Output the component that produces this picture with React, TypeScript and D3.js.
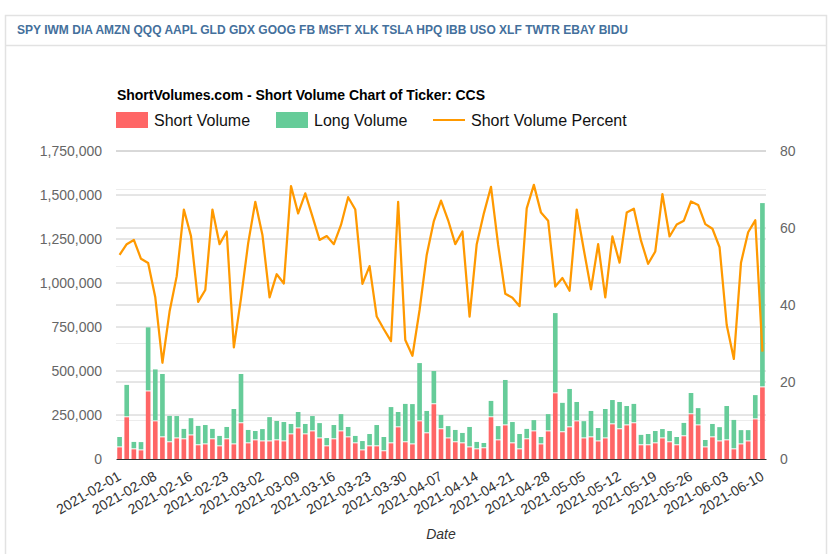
import React, { useRef, useEffect } from 'react';
import * as d3 from 'd3';

const tickers = ["SPY", "IWM", "DIA", "AMZN", "QQQ", "AAPL", "GLD", "GDX", "GOOG", "FB", "MSFT", "XLK", "TSLA", "HPQ", "IBB", "USO", "XLF", "TWTR", "EBAY", "BIDU"];

const dates = [
  "2021-02-01", "2021-02-02", "2021-02-03", "2021-02-04", "2021-02-05",
  "2021-02-08", "2021-02-09", "2021-02-10", "2021-02-11", "2021-02-12",
  "2021-02-16", "2021-02-17", "2021-02-18", "2021-02-19",
  "2021-02-22", "2021-02-23", "2021-02-24", "2021-02-25", "2021-02-26",
  "2021-03-01", "2021-03-02", "2021-03-03", "2021-03-04", "2021-03-05",
  "2021-03-08", "2021-03-09", "2021-03-10", "2021-03-11", "2021-03-12",
  "2021-03-15", "2021-03-16", "2021-03-17", "2021-03-18", "2021-03-19",
  "2021-03-22", "2021-03-23", "2021-03-24", "2021-03-25", "2021-03-26",
  "2021-03-29", "2021-03-30", "2021-03-31", "2021-04-01",
  "2021-04-05", "2021-04-06", "2021-04-07", "2021-04-08", "2021-04-09",
  "2021-04-12", "2021-04-13", "2021-04-14", "2021-04-15", "2021-04-16",
  "2021-04-19", "2021-04-20", "2021-04-21", "2021-04-22", "2021-04-23",
  "2021-04-26", "2021-04-27", "2021-04-28", "2021-04-29", "2021-04-30",
  "2021-05-03", "2021-05-04", "2021-05-05", "2021-05-06", "2021-05-07",
  "2021-05-10", "2021-05-11", "2021-05-12", "2021-05-13", "2021-05-14",
  "2021-05-17", "2021-05-18", "2021-05-19", "2021-05-20", "2021-05-21",
  "2021-05-24", "2021-05-25", "2021-05-26", "2021-05-27", "2021-05-28",
  "2021-06-01", "2021-06-02", "2021-06-03", "2021-06-04",
  "2021-06-07", "2021-06-08", "2021-06-09", "2021-06-10",
];

const tickDates = ["2021-02-01", "2021-02-08", "2021-02-16", "2021-02-23", "2021-03-02", "2021-03-09", "2021-03-16", "2021-03-23", "2021-03-30", "2021-04-07", "2021-04-14", "2021-04-21", "2021-04-28", "2021-05-05", "2021-05-12", "2021-05-19", "2021-05-26", "2021-06-03", "2021-06-10"];

// thousands of shares
const shortVolume = [
  66, 237, 55, 49, 384, 214, 123, 95, 117, 112,
  134, 78, 83, 112, 72, 112, 83, 203, 89, 106,
  100, 100, 106, 100, 140, 174, 140, 157, 117, 72,
  112, 157, 123, 89, 49, 72, 72, 44, 89, 180,
  95, 83, 214, 146, 311, 169, 117, 95, 89, 66,
  55, 61, 237, 106, 191, 89, 55, 112, 157, 83,
  157, 373, 152, 180, 214, 117, 123, 100, 117, 197,
  169, 191, 203, 78, 78, 89, 117, 95, 78, 129,
  254, 191, 66, 123, 100, 106, 55, 83, 100, 225,
  407,
];

const longVolume = [
  59, 184, 42, 47, 364, 295, 360, 150, 127, 59,
  98, 110, 110, 59, 59, 70, 201, 280, 76, 53,
  70, 138, 110, 110, 59, 93, 59, 87, 87, 47,
  81, 98, 59, 42, 53, 70, 121, 81, 206, 87,
  218, 229, 331, 127, 189, 81, 70, 70, 59, 116,
  42, 30, 93, 81, 258, 121, 87, 59, 64, 42,
  98, 456, 167, 218, 110, 98, 150, 76, 167, 138,
  155, 110, 110, 59, 64, 70, 53, 64, 47, 76,
  121, 98, 42, 76, 81, 195, 167, 81, 64, 138,
  1047,
];

const shortPercent = [
  53, 55.8, 56.9, 52, 50.9, 42, 25, 38.3, 47.5, 64.8,
  57.9, 40.8, 43.9, 64.8, 55.8, 59.1, 29, 41.7, 56, 66.8,
  58.2, 42, 48, 45.6, 70.9, 63.8, 69, 63, 56.9, 57.9,
  55.8, 60.8, 68, 64.8, 45.5, 50.1, 37, 33.7, 30.6, 66.8,
  30.9, 26.8, 38.7, 53, 61.8, 67.1, 62, 55.8, 59.1, 37,
  55.8, 63.8, 70.7, 55.6, 42.9, 41.9, 39.7, 65.1, 71.2, 64,
  61.9, 44.8, 47, 43.7, 64.8, 54.3, 44.1, 55.8, 42, 57.8,
  51, 64, 65, 56.7, 50.7, 53.9, 68.8, 57.8, 60.9, 61.9,
  66.9, 66, 61, 59.8, 55, 34.8, 26, 51, 58.9, 62,
  27.9,
];

const volumeTicks = [0, 250000, 500000, 750000, 1000000, 1250000, 1500000, 1750000];
const percentGrid = [10, 20, 30, 40, 50, 60, 70, 80];
const percentTicks = [0, 20, 40, 60, 80];

const FONT = '"Liberation Sans", Arial, sans-serif';
const RED = '#ff6666';
const GREEN = '#66cc99';
const ORANGE = '#ff9900';

const margin = { top: 151, right: 74, bottom: 95, left: 116 };
const width = 840;
const height = 554;

const App: React.FC = () => {
  const svgRef = useRef<SVGSVGElement | null>(null);

  useEffect(() => {
    if (!svgRef.current) return;
    const svg = d3.select(svgRef.current);
    svg.selectAll('*').remove();
    svg.style('font-family', FONT);

    const innerWidth = width - margin.left - margin.right;
    const innerHeight = height - margin.top - margin.bottom;

    const x = d3.scaleBand().domain(dates).range([0, innerWidth]).paddingInner(0.35).paddingOuter(0.175);
    const y = d3.scaleLinear().domain([0, 1750000]).range([innerHeight, 0]);
    const yPct = d3.scaleLinear().domain([0, 80]).range([innerHeight, 0]);

    // card around the chart
    svg.append('rect').attr('x', 5.5).attr('y', 15.5).attr('width', 821).attr('height', 560)
      .attr('fill', '#fff').attr('stroke', '#e2e2e2').attr('stroke-width', 1.5);
    svg.append('line').attr('x1', 5.5).attr('x2', 826.5).attr('y1', 45.5).attr('y2', 45.5)
      .attr('stroke', '#e2e2e2').attr('stroke-width', 1.5);

    svg.append('text').attr('x', 17).attr('y', 34)
      .attr('font-size', 12).attr('font-weight', 'bold').attr('fill', '#44709c')
      .attr('textLength', 611)
      .text(tickers.join(' '));

    svg.append('text').attr('x', 117).attr('y', 100)
      .attr('font-size', 14).attr('font-weight', 'bold').attr('fill', '#000')
      .attr('textLength', 368)
      .text('ShortVolumes.com - Short Volume Chart of Ticker: CCS');

    // legend
    const legend = svg.append('g').attr('font-size', 16).attr('fill', '#111');
    legend.append('rect').attr('x', 116).attr('y', 112).attr('width', 32).attr('height', 16).attr('fill', RED);
    legend.append('text').attr('x', 154).attr('y', 126).text('Short Volume');
    legend.append('rect').attr('x', 276).attr('y', 112).attr('width', 32).attr('height', 16).attr('fill', GREEN);
    legend.append('text').attr('x', 314).attr('y', 126).text('Long Volume');
    legend.append('line').attr('x1', 433).attr('x2', 465).attr('y1', 120).attr('y2', 120)
      .attr('stroke', ORANGE).attr('stroke-width', 2);
    legend.append('text').attr('x', 471).attr('y', 126).text('Short Volume Percent');

    const plot = svg.append('g').attr('transform', `translate(${margin.left},${margin.top})`);

    // grid lines from both value axes
    const grid = plot.append('g');
    percentGrid.forEach(v => {
      grid.append('line').attr('x1', 0).attr('x2', innerWidth)
        .attr('y1', yPct(v)).attr('y2', yPct(v))
        .attr('stroke', v % 20 === 0 ? '#cccccc' : '#ececec').attr('stroke-width', 1);
    });
    volumeTicks.slice(1).forEach(v => {
      grid.append('line').attr('x1', 0).attr('x2', innerWidth)
        .attr('y1', y(v)).attr('y2', y(v))
        .attr('stroke', '#cccccc').attr('stroke-width', 1);
    });

    // stacked bars
    const bars = plot.append('g');
    dates.forEach((d, i) => {
      const s = shortVolume[i] * 1000;
      const l = longVolume[i] * 1000;
      bars.append('rect').attr('x', x(d)!).attr('width', x.bandwidth())
        .attr('y', y(s)).attr('height', innerHeight - y(s))
        .attr('fill', RED);
      bars.append('rect').attr('x', x(d)!).attr('width', x.bandwidth())
        .attr('y', y(s + l)).attr('height', y(s) - y(s + l) - 1)
        .attr('fill', GREEN);
    });

    // percent line
    const line = d3.line<string>()
      .x(d => x(d)! + x.bandwidth() / 2)
      .y((_, i) => yPct(shortPercent[i]));
    plot.append('path').attr('d', line(dates)!)
      .attr('fill', 'none').attr('stroke', ORANGE).attr('stroke-width', 2.25).attr('stroke-linejoin', 'round');

    // axes
    const left = plot.append('g')
      .call(d3.axisLeft(y).tickValues(volumeTicks).tickSize(0).tickPadding(14).tickFormat(d3.format(',') as any));
    left.select('.domain').remove();
    left.selectAll('text').attr('font-size', 14).attr('font-family', FONT).attr('fill', '#666');

    const right = plot.append('g').attr('transform', `translate(${innerWidth},0)`)
      .call(d3.axisRight(yPct).tickValues(percentTicks).tickSize(0).tickPadding(14));
    right.select('.domain').remove();
    right.selectAll('text').attr('font-size', 14).attr('font-family', FONT).attr('fill', '#666');

    const bottom = plot.append('g').attr('transform', `translate(0,${innerHeight})`)
      .call(d3.axisBottom(x).tickValues(tickDates).tickSize(0));
    bottom.select('.domain').attr('stroke', '#333').attr('stroke-width', 1);
    bottom.selectAll('text')
      .attr('font-size', 14).attr('font-family', FONT).attr('fill', '#333')
      .attr('text-anchor', 'end').attr('x', 0).attr('y', 0).attr('dy', 0)
      .attr('transform', 'translate(2.5,20) rotate(-30)');

    svg.append('text').attr('x', 441).attr('y', 539).attr('text-anchor', 'middle')
      .attr('font-size', 14).attr('font-style', 'italic').attr('fill', '#333').text('Date');
  }, []);

  return <svg ref={svgRef} width={width} height={height} style={{ position: 'absolute', left: 0, top: 0, display: 'block' }} />;
};

export default App;
